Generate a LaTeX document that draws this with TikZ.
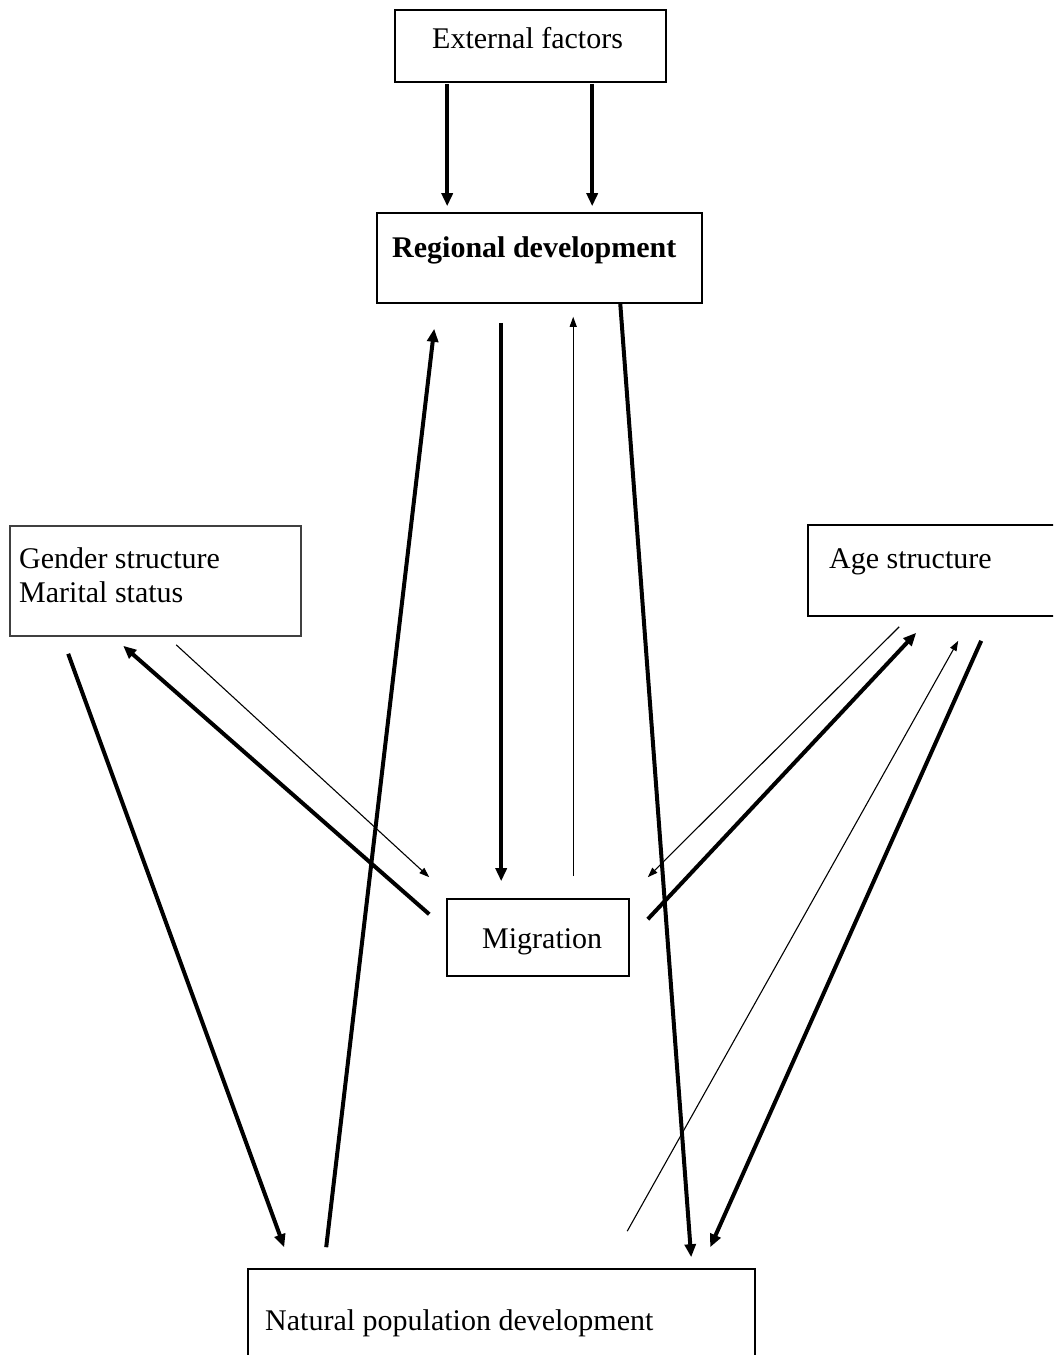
\documentclass[tikz,border=0pt]{standalone}
\usepackage{fontspec}
\setmainfont{Liberation Serif}
\usetikzlibrary{arrows.meta}
\begin{document}
\begin{tikzpicture}[x=1pt,y=-1pt,
  box/.style={draw=black,line width=1.6pt,rectangle,inner sep=0pt},
  lbl/.style={anchor=base west,inner sep=0pt,font=\fontsize{30}{34}\selectfont},
  thickarr/.style={line width=4pt,-{Triangle[length=13pt,width=11pt]}},
  thinarr/.style={line width=1.1pt,-{Triangle[length=10pt,width=7pt]}}]
\useasboundingbox (0,0) rectangle (1053,1355);
\clip (0,0) rectangle (1053,1355);
% boxes
\node[box,minimum width=271pt,minimum height=72pt] (ext) at (530.5,46) {};
\node[box,minimum width=325pt,minimum height=90pt] (reg) at (539.5,258) {};
\node[box,draw=black!75,minimum width=291pt,minimum height=110pt] (gen) at (155.5,581) {};
\node[box,minimum width=252pt,minimum height=91pt] (age) at (934,570.5) {};
\node[box,minimum width=182pt,minimum height=77pt] (mig) at (538,937.5) {};
\node[box,minimum width=507pt,minimum height=92pt] (nat) at (501.5,1315) {};
% texts
\node[lbl] (extT) at (432,48) {External factors};
\node[lbl,font=\fontsize{30}{34}\selectfont\bfseries] (regT) at (392,257) {Regional development};
\node[lbl] (genT1) at (19,568) {Gender structure};
\node[lbl] (genT2) at (19,602) {Marital status};
\node[lbl] (ageT) at (829,568) {Age structure};
\node[lbl] (migT) at (482,948) {Migration};
\node[lbl] (natT) at (265,1330) {Natural population development};
% connectors
\draw[thickarr] ([shift={(53,1)}]ext.south west) -- ([shift={(71,-6)}]reg.north west);
\draw[thickarr] ([shift={(198,1)}]ext.south west) -- ([shift={(216,-6)}]reg.north west);
\draw[thickarr] ([shift={(125,19)}]reg.south west) -- ([shift={(55,-17)}]mig.north west);
\draw[thinarr] ([shift={(127,-22)}]mig.north west) -- ([shift={(197,13)}]reg.south west);
\draw[thickarr] ([shift={(79,-21)}]nat.north west) -- ([shift={(58,25)}]reg.south west);
\draw[thickarr] ([shift={(244,-1)}]reg.south west) -- ([shift={(444,-11)}]nat.north west);
\draw[thickarr] ([shift={(59,17)}]gen.south west) -- ([shift={(37,-21)}]nat.north west);
\draw[thickarr] ([shift={(-17,16)}]mig.north west) -- ([shift={(114,9)}]gen.south west);
\draw[thinarr] ([shift={(167,8)}]gen.south west) -- ([shift={(-17,-21)}]mig.north west);
\draw[thinarr] ([shift={(92,10)}]age.south west) -- ([shift={(18,-21)}]mig.north east);
\draw[thickarr] ([shift={(18,21)}]mig.north east) -- ([shift={(109,16)}]age.south west);
\draw[thinarr] ([shift={(380,-37)}]nat.north west) -- ([shift={(151,24)}]age.south west);
\draw[thickarr] ([shift={(174,24)}]age.south west) -- ([shift={(463,-21)}]nat.north west);
\end{tikzpicture}
\end{document}
